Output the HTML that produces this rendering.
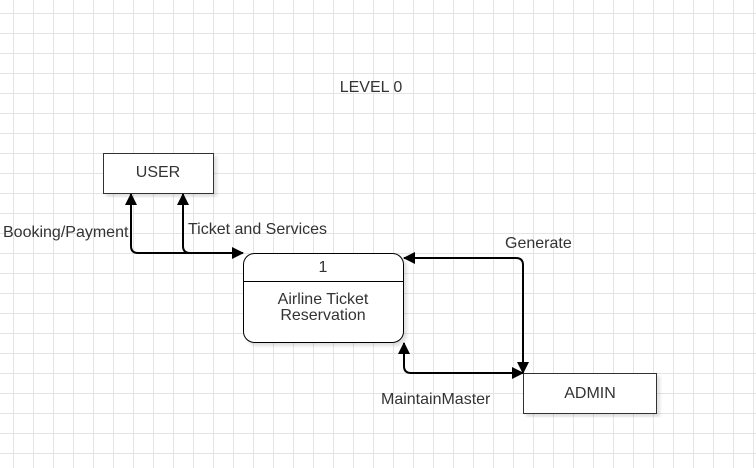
<!DOCTYPE html>
<html><head><style>
html,body{margin:0;padding:0;}
body{width:756px;height:468px;overflow:hidden;background:#fff;
background-image:linear-gradient(to right,#e4e4e4 1px,transparent 1px),linear-gradient(to bottom,#e4e4e4 1px,transparent 1px);
background-size:20px 20px;background-position:13px 13px;font-family:"Liberation Sans",sans-serif;}
</style></head><body>
<svg width="756" height="468" style="position:absolute;left:0;top:0" font-family="Liberation Sans, sans-serif" font-size="16" fill="#333">
<defs>
<marker id="a" markerWidth="12" markerHeight="12" refX="11" refY="6" orient="auto-start-reverse" markerUnits="userSpaceOnUse">
<path d="M0,0 L12,6 L0,12 z" fill="#000"/></marker>
<filter id="s"><feDropShadow dx="3" dy="3" stdDeviation="1.5" flood-color="#000" flood-opacity="0.12"/></filter>
</defs>
<text x="371" y="92" text-anchor="middle">LEVEL 0</text>
<rect x="103.5" y="153.5" width="110" height="40" fill="#fff" stroke="#333" filter="url(#s)"/>
<text x="158" y="177" text-anchor="middle">USER</text>
<rect x="243.5" y="253.5" width="160" height="89" rx="11" fill="#fff" stroke="#000" filter="url(#s)"/>
<line x1="243.5" y1="281.5" x2="403.5" y2="281.5" stroke="#000"/>
<text x="323" y="272" text-anchor="middle">1</text>
<text x="323" y="304" text-anchor="middle">Airline Ticket</text>
<text x="323" y="320" text-anchor="middle">Reservation</text>
<rect x="523.5" y="373.5" width="133" height="40" fill="#fff" stroke="#333" filter="url(#s)"/>
<text x="590" y="398" text-anchor="middle">ADMIN</text>
<g fill="none" stroke="#000" stroke-width="2">
<path d="M131,194 L131,246 Q131,253 138,253 L243,253" marker-start="url(#a)" marker-end="url(#a)"/>
<path d="M183,194 L183,246 Q183,253 190,253 L230,253"  marker-start="url(#a)"/>
<path d="M404,258 L516,258 Q523,258 523,265 L523,373" marker-start="url(#a)" marker-end="url(#a)"/>
<path d="M404,343 L404,366 Q404,373 411,373 L523,373" marker-start="url(#a)" marker-end="url(#a)"/>
</g>
<text x="3" y="237">Booking/Payment</text>
<text x="188" y="234">Ticket and Services</text>
<text x="505" y="248">Generate</text>
<text x="381" y="404">MaintainMaster</text>
</svg>
</body></html>
